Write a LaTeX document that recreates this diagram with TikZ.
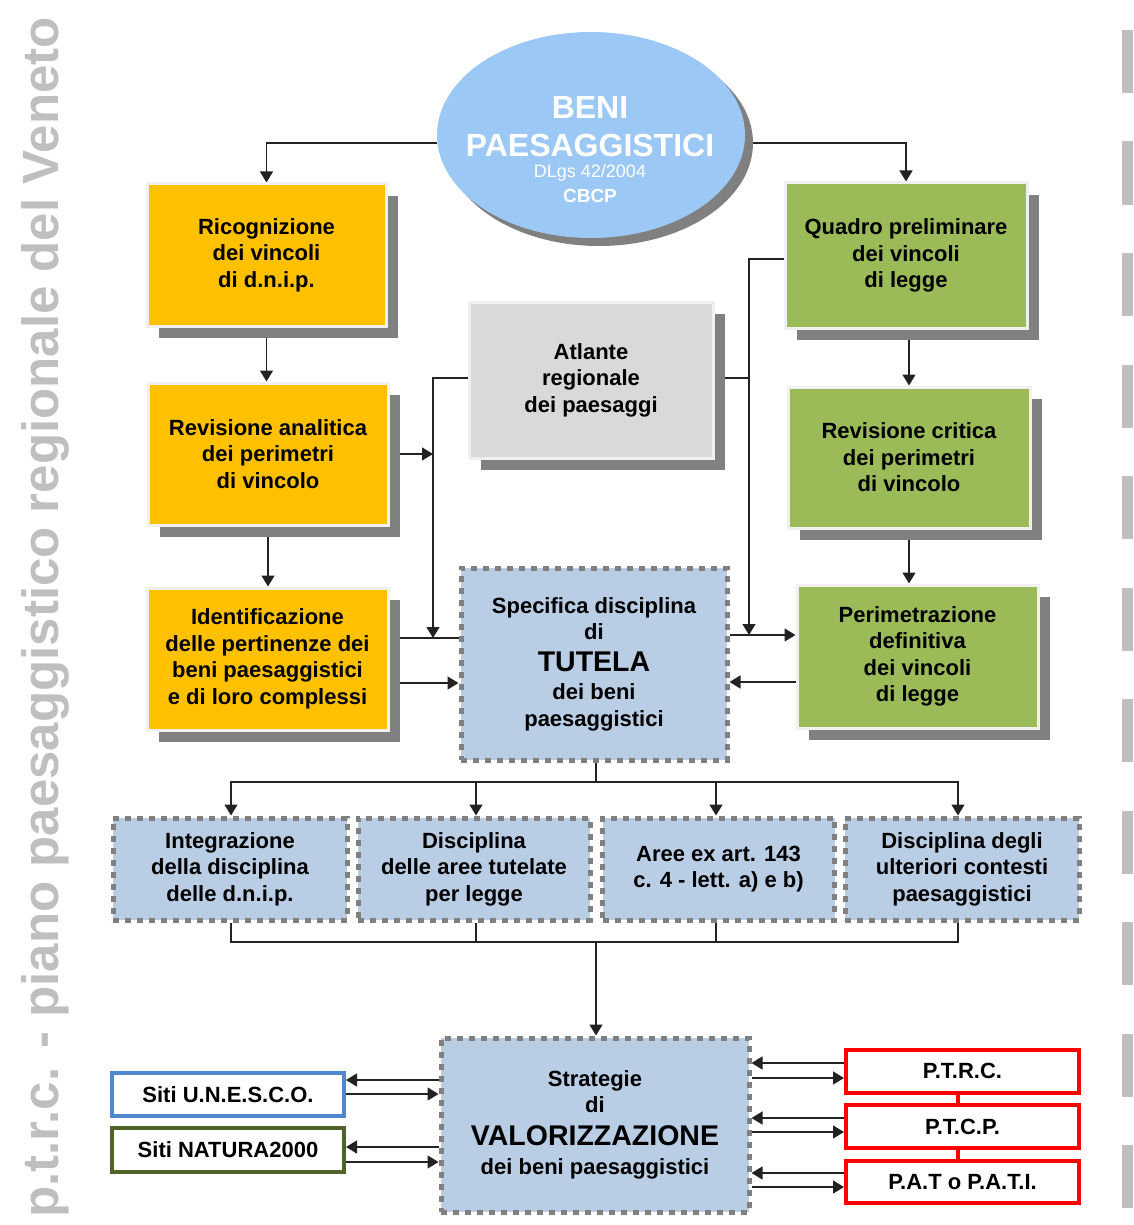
\documentclass[tikz,border=0pt]{standalone}
\usepackage{fontspec}
\setmainfont{Liberation Sans}
\usetikzlibrary{arrows.meta,shadows,shapes.geometric,backgrounds}

\definecolor{orangebox}{HTML}{FFC000}
\definecolor{greenbox}{HTML}{9BBB59}
\definecolor{graybox}{HTML}{D9D9D9}
\definecolor{bluebox}{HTML}{B9CDE5}
\definecolor{ellblue}{HTML}{9CC8F5}
\definecolor{shade}{HTML}{808080}
\definecolor{sidegray}{HTML}{BFBFBF}
\definecolor{dashgray}{HTML}{808080}
\definecolor{unescoblue}{HTML}{4F88CC}
\definecolor{naturagreen}{HTML}{4F6228}
\definecolor{planred}{HTML}{FF0000}
\definecolor{linecol}{HTML}{222222}

\tikzset{
  basetext/.style={inner sep=0pt, align=center, text=black,
    font=\fontsize{22}{26.5}\selectfont\bfseries},
  solidbox/.style={basetext, rectangle, draw=white!94!black, line width=3pt,
    drop shadow={shadow xshift=12pt, shadow yshift=-12pt, fill=shade, opacity=1}},
  orangestyle/.style={solidbox, fill=orangebox},
  greenstyle/.style={solidbox, fill=greenbox},
  graystyle/.style={solidbox, fill=graybox},
  dotbox/.style={basetext, rectangle, fill=bluebox, draw=dashgray, line width=5pt,
    dash pattern=on 6pt off 6pt},
  sitebox/.style={basetext, rectangle, fill=white, line width=4pt},
  planbox/.style={basetext, rectangle, fill=white, draw=planred, line width=4pt},
  conn/.style={draw=linecol, line width=1.4pt},
  arr/.style={conn, -{Triangle[width=13pt,length=11pt]}},
  elltext/.style={anchor=base, inner sep=0pt, text=white},
}

\pgfdeclarelayer{bg}
\pgfsetlayers{bg,main}

\begin{document}
\begin{tikzpicture}[x=1pt,y=-1pt]
\useasboundingbox (0,0) rectangle (1133,1225);

% side label and right bars
\node[rotate=90, anchor=base west, inner sep=0pt, text=sidegray,
  font=\fontsize{51}{51}\selectfont\bfseries] (side) at (58,1218)
  {p.t.r.c. - piano paesaggistico regionale del Veneto};
\foreach \i in {0,...,10}
  \fill[sidegray] (1122,{30+111.5*\i}) rectangle (1133,{93+111.5*\i});

% ellipse
\node[ellipse, fill=ellblue, minimum width=308pt, minimum height=206pt, inner sep=0pt,
  drop shadow={shadow xshift=8pt, shadow yshift=-8pt, fill=shade, opacity=1}] (ell) at (591,135) {};
\node[elltext, font=\fontsize{32}{32}\selectfont\bfseries] (t1) at (590,119) {BENI};
\node[elltext, font=\fontsize{32}{32}\selectfont\bfseries] (t2) at (590,157) {PAESAGGISTICI};
\node[elltext, font=\fontsize{18}{18}\selectfont] (t3) at (590,178) {DLgs 42/2004};
\node[elltext, font=\fontsize{19}{19}\selectfont\bfseries] (t4) at (590,202) {CBCP};

% left column
\node[orangestyle, minimum width=239pt, minimum height=142pt] (rico) at (266.5,255)
  {Ricognizione\\dei vincoli\\di d.n.i.p.};
\node[orangestyle, minimum width=240pt, minimum height=142pt] (revA) at (268,454)
  {Revisione analitica\\dei perimetri\\di vincolo};
\node[orangestyle, minimum width=241pt, minimum height=142pt] (iden) at (267.5,659)
  {Identificazione\\delle pertinenze dei\\beni paesaggistici\\e di loro complessi};

% middle
\node[graystyle, minimum width=244pt, minimum height=156pt] (atl) at (591,380)
  {\raisebox{4pt}{\parbox{240pt}{\centering Atlante\\regionale\\dei paesaggi}}};
\node[dotbox, minimum width=266pt, minimum height=192pt] (spec) at (594,664)
  {Specifica disciplina\\di\\[5pt]{\fontsize{28.5}{30}\selectfont TUTELA}\\[2pt]dei beni\\paesaggistici};

% right column
\node[greenstyle, minimum width=242pt, minimum height=145pt] (quad) at (906,255.5)
  {Quadro preliminare\\dei vincoli\\di legge};
\node[greenstyle, minimum width=242pt, minimum height=141pt] (revC) at (909,457.5)
  {Revisione critica\\dei perimetri\\di vincolo};
\node[greenstyle, minimum width=241pt, minimum height=143pt] (peri) at (917.5,656.5)
  {Perimetrazione\\definitiva\\dei vincoli\\di legge};

% row of four
\node[dotbox, minimum width=234pt, minimum height=102pt] (A) at (230,869)
  {Integrazione\\della disciplina\\delle d.n.i.p.};
\node[dotbox, minimum width=232pt, minimum height=102pt] (B) at (474,869)
  {Disciplina\\delle aree tutelate\\per legge};
\node[dotbox, minimum width=232pt, minimum height=102pt] (C) at (718.5,869)
  {Aree ex art. 143\\c. 4 - lett. a) e b)};
\node[dotbox, minimum width=234pt, minimum height=102pt] (D) at (962,869)
  {Disciplina degli\\ulteriori contesti\\paesaggistici};

% bottom
\node[dotbox, minimum width=308pt, minimum height=174pt] (strat) at (595,1125)
  {Strategie\\di\\[6pt]{\fontsize{28.5}{30}\selectfont VALORIZZAZIONE}\\[3pt]dei beni paesaggistici};
\node[sitebox, draw=unescoblue, minimum width=232pt, minimum height=43pt] (unesco) at (228,1094.5)
  {Siti U.N.E.S.C.O.};
\node[sitebox, draw=naturagreen, minimum width=232pt, minimum height=44pt] (natura) at (228,1150)
  {Siti NATURA2000};
\node[planbox, minimum width=233pt, minimum height=43pt] (ptrc) at (962.5,1071) {P.T.R.C.};
\node[planbox, minimum width=233pt, minimum height=43pt] (ptcp) at (962.5,1126.5) {P.T.C.P.};
\node[planbox, minimum width=233pt, minimum height=42pt] (pati) at (962.5,1182) {P.A.T o P.A.T.I.};

% helper coordinates
\coordinate (L) at (433,638);
\coordinate (R) at (749,635);
\coordinate (yq) at (0,259);
\coordinate (ya) at (0,378);
\coordinate (y683) at (0,683);
\coordinate (y682) at (0,682);
\coordinate (bus1) at (596,782);
\coordinate (bus2) at (596,942);
\coordinate (xa) at (231,0);
\coordinate (xb) at (476,0);
\coordinate (xc) at (716,0);
\coordinate (xd) at (958,0);
\coordinate (u1) at (0,1080);
\coordinate (u2) at (0,1094);
\coordinate (n1) at (0,1147);
\coordinate (n2) at (0,1162);
\coordinate (p1) at (0,1063);
\coordinate (p2) at (0,1078);
\coordinate (c1) at (0,1118);
\coordinate (c2) at (0,1132);
\coordinate (a1) at (0,1173);
\coordinate (a2) at (0,1187);
\coordinate (xr) at (958,0);

\begin{pgfonlayer}{bg}
  \draw[arr] ([yshift=-8pt]ell.west) -| (rico.north);
  \draw[arr] ([yshift=-8pt]ell.east) -| (quad.north);
  \draw[arr] (rico.south) -- (rico.south |- revA.north);
  \draw[arr] (revA.south) -- (revA.south |- iden.north);
  \draw[arr] (atl.west |- ya) -| (L);
  \draw[arr] (revA.east) -- (revA.east -| L);
  \draw[conn] (iden.east |- L) -- (spec.west |- L);
  \draw[arr] (iden.east |- y683) -- (spec.west |- y683);
  \draw[arr] (quad.west |- yq) -| (R);
  \draw[conn] (atl.east |- ya) -- (R |- ya);
  \draw[arr] (spec.east |- R) -- (peri.west |- R);
  \draw[arr] (peri.west |- y682) -- (spec.east |- y682);
  \draw[arr] (revC.north |- quad.south) -- (revC.north);
  \draw[arr] (revC.south) -- (revC.south |- peri.north);
  % distribution bus
  \draw[conn] (spec.south -| bus1) -- (bus1);
  \draw[arr] (bus1) -| (A.north -| xa);
  \draw[arr] (bus1) -| (B.north -| xb);
  \draw[arr] (bus1) -| (C.north -| xc);
  \draw[arr] (bus1) -| (D.north -| xd);
  % collecting bus
  \draw[conn] (A.south -| xa) |- (bus2);
  \draw[conn] (B.south -| xb) |- (bus2);
  \draw[conn] (C.south -| xc) |- (bus2);
  \draw[conn] (D.south -| xd) |- (bus2);
  \draw[arr] (bus2) -- (bus2 |- strat.north);
  % left sites
  \draw[arr] (strat.west |- u1) -- (unesco.east |- u1);
  \draw[arr] (unesco.east |- u2) -- (strat.west |- u2);
  \draw[arr] (strat.west |- n1) -- (natura.east |- n1);
  \draw[arr] (natura.east |- n2) -- (strat.west |- n2);
  % right plans
  \draw[arr] (ptrc.west |- p1) -- (strat.east |- p1);
  \draw[arr] (strat.east |- p2) -- (ptrc.west |- p2);
  \draw[arr] (ptcp.west |- c1) -- (strat.east |- c1);
  \draw[arr] (strat.east |- c2) -- (ptcp.west |- c2);
  \draw[arr] (pati.west |- a1) -- (strat.east |- a1);
  \draw[arr] (strat.east |- a2) -- (pati.west |- a2);
\end{pgfonlayer}
\draw[planred, line width=4pt] (ptrc.south -| xr) -- (ptcp.north -| xr);
\draw[planred, line width=4pt] (ptcp.south -| xr) -- (pati.north -| xr);
\end{tikzpicture}
\end{document}
